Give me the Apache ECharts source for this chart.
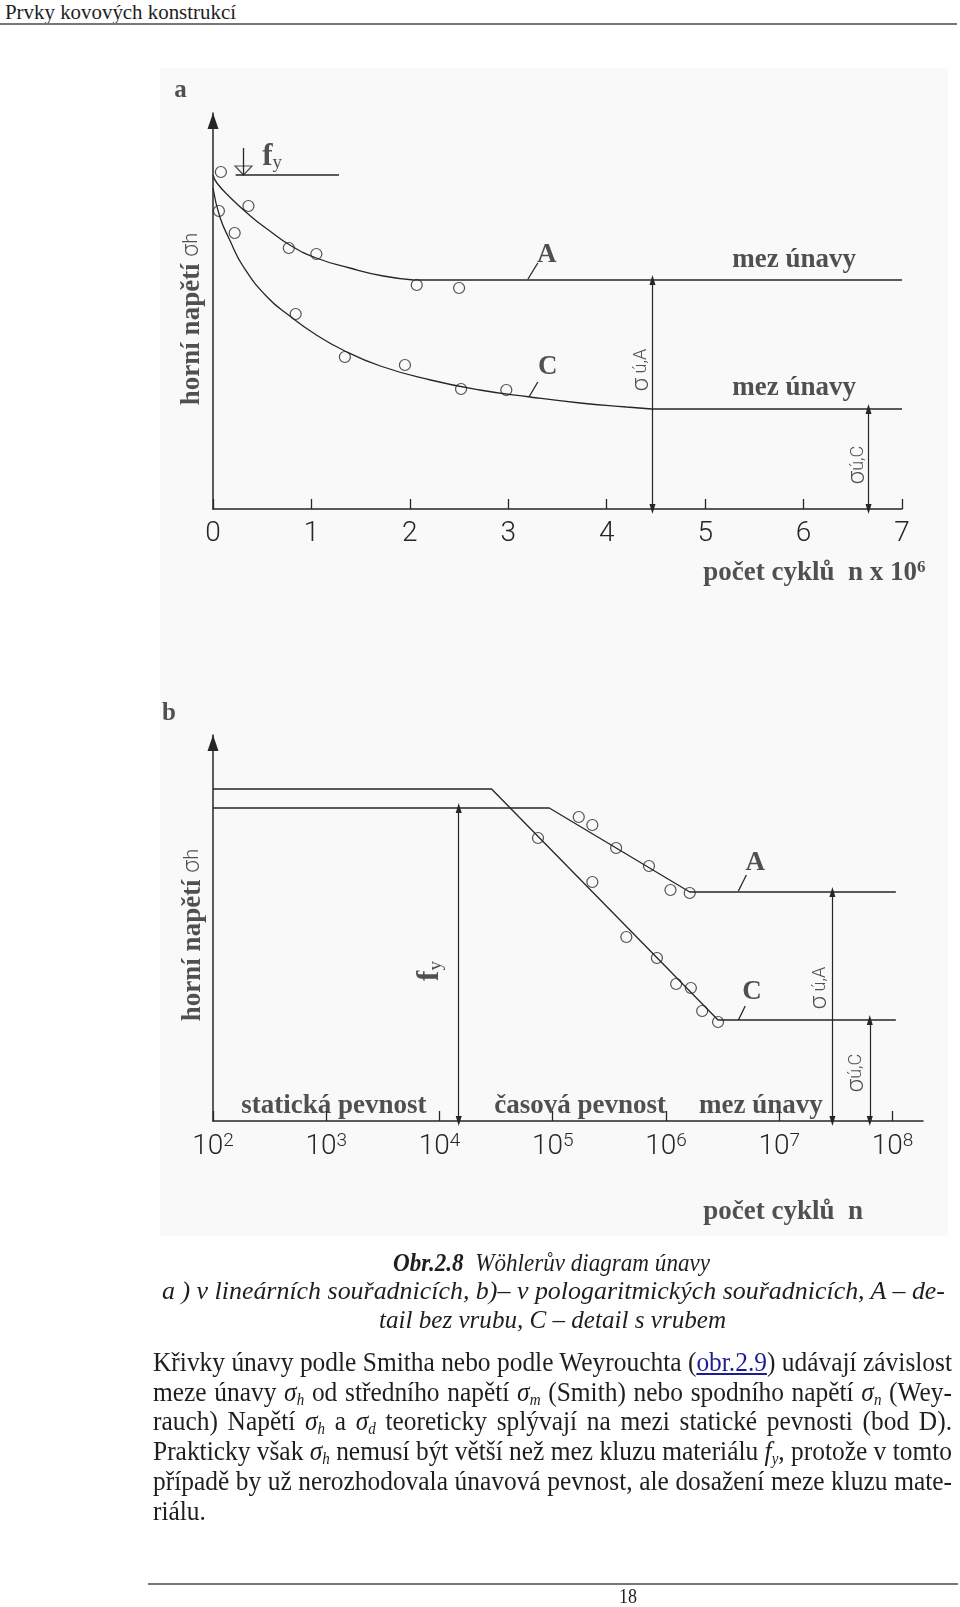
<!DOCTYPE html>
<html><head><meta charset="utf-8">
<script src="https://cdn.jsdelivr.net/npm/echarts@6/dist/echarts.min.js"></script>
<style>
html,body{margin:0;padding:0;background:#fff;}
body{width:960px;height:1607px;position:relative;overflow:hidden;font-family:'Liberation Serif','Times New Roman',serif;color:#1e1e1e;}
.ln{position:absolute;display:inline-block;white-space:nowrap;line-height:30px;transform-origin:0 50%;}
.cap{font-style:italic;font-size:26px;}
.par{font-size:27px;}
.par i{font-style:italic;}
.par sub{font-size:16px;font-style:italic;vertical-align:-4px;line-height:0;}
.lk{color:#1d1d8f;text-decoration:underline;}
#chart{position:absolute;left:0;top:0;width:960px;height:1607px;}
</style></head><body>
<div class="ln" data-mode="fit" data-l="5" data-r="236" data-c="12" style="font-size:21px;line-height:24px">Prvky kovových konstrukcí</div>
<div style="position:absolute;left:0;top:23px;width:957px;height:2px;background:#777"></div>
<div style="position:absolute;left:160px;top:68px;width:788px;height:1168px;background:#f9f9f9"></div>
<div id="chart"></div>

<div class="ln cap" data-mode="fit" data-l="393" data-r="710" data-c="1263"><b>Obr.2.8</b>&nbsp; Wöhlerův diagram únavy</div>
<div class="ln cap" data-mode="fit" data-l="162" data-r="945" data-c="1291">a ) v lineárních souřadnicích, b)– v pologaritmických souřadnicích, A – de-</div>
<div class="ln cap" data-mode="fit" data-l="379" data-r="726" data-c="1320">tail bez vrubu, C – detail s vrubem</div>

<div class="ln par" data-mode="justify" data-l="153" data-r="952" data-c="1362">Křivky únavy podle Smitha nebo podle Weyrouchta (<span class="lk">obr.2.9</span>) udávají závislost</div>
<div class="ln par" data-mode="justify" data-l="153" data-r="952" data-c="1391.7">meze únavy <i>σ</i><sub>h</sub> od středního napětí <i>σ</i><sub>m</sub> (Smith) nebo spodního napětí <i>σ</i><sub>n</sub> (Wey-</div>
<div class="ln par" data-mode="justify" data-l="153" data-r="952" data-c="1421.4">rauch) Napětí <i>σ</i><sub>h</sub> a <i>σ</i><sub>d</sub> teoreticky splývají na mezi statické pevnosti (bod D).</div>
<div class="ln par" data-mode="justify" data-l="153" data-r="952" data-c="1451.1">Prakticky však <i>σ</i><sub>h</sub> nemusí být větší než mez kluzu materiálu <i>f</i><sub>y</sub>, protože v tomto</div>
<div class="ln par" data-mode="justify" data-l="153" data-r="952" data-c="1480.8">případě by už nerozhodovala únavová pevnost, ale dosažení meze kluzu mate-</div>
<div class="ln par" data-mode="last" data-l="153" data-r="952" data-c="1510.5">riálu.</div>

<div style="position:absolute;left:148px;top:1583px;width:810px;height:2px;background:#777"></div>
<div class="ln" data-mode="fit" data-l="619" data-r="637" data-c="1596" style="font-size:20px">18</div>

<script>
// ================= DATA =================
// --- chart a: linear coordinates (n x 10^6, upper stress in arbitrary units) ---
const a_nMax = 7;
const a_sMax = 396;
const a_curveA_n = [0, 0.04, 0.17, 0.38, 0.55, 0.78, 1.05, 1.39, 1.73, 2.04];
const a_curveA_s = [334, 326, 312, 293, 280, 264, 251, 241, 233, 229];
const a_limitA = 229;
const a_curveC_n = [0, 0.07, 0.17, 0.31, 0.55, 0.78, 1.02, 1.32, 1.70, 2.21, 2.71, 3.22, 3.73, 4.20, 4.46];
const a_curveC_s = [321, 292, 269, 242, 212, 193, 176, 159, 143, 129, 119, 112, 106, 102, 100];
const a_limitC = 100;
const a_testsA_n = [0.08, 0.36, 0.77, 1.05, 2.07, 2.50];
const a_testsA_s = [337, 303, 261, 255, 224, 221];
const a_testsC_n = [0.06, 0.22, 0.84, 1.34, 1.95, 2.52, 2.98];
const a_testsC_s = [298, 276, 195, 152, 144, 120, 119];
const a_fy = 334;
const a_fyLine_n = [0.23, 1.28];
const a_fyMark_n = 0.31;
const a_fyMark_s = [361, 334];
const a_sigmaA_n = 4.465;
const a_sigmaC_n = 6.66;

// --- chart b: semi-log coordinates (log10 of cycles, upper stress) ---
const b_expMin = 2;
const b_expMax = 8.27;
const b_sMax = 386;
const b_lineC_exp = [2, 4.46, 6.46, 8.03];
const b_lineC_s = [332, 332, 101, 101];
const b_lineA_exp = [2, 4.97, 6.21, 8.03];
const b_lineA_s = [313, 313, 229, 229];
const b_testsA_exp = [5.23, 5.35, 5.56, 5.85, 6.04, 6.21];
const b_testsA_s = [304, 296, 273, 255, 231, 228];
const b_testsC_exp = [4.87, 5.35, 5.65, 5.92, 6.09, 6.22, 6.32, 6.46];
const b_testsC_s = [283, 239, 184, 163, 137, 133, 110, 99];
const b_fy_exp = 4.17;
const b_sigmaA_exp = 7.47;
const b_sigmaC_exp = 7.80;

// --- text annotations [x, y, text, rotation] in each chart's data units ---
const a_notes = [
  [-0.33, 418, '{pl|a}', 0],
  [-0.215, 190, '{bs|horní napětí }{sg|σ}{sgs|h}', 90],
  [6.11, -64, '{bs|počet cyklů  n x 10}{sup|6}', 0],
  [0.60, 352, '{fb|f}{fs|y}', 0],
  [3.39, 254, '{bs|A}', 0],
  [3.40, 142, '{bs|C}', 0],
  [5.905, 249, '{bs|mez únavy}', 0],
  [5.905, 121, '{bs|mez únavy}', 0],
  [4.357, 139, '{su|σ}{sus| ú,A}', 90],
  [6.555, 44, '{su|σ}{sus|ú,C}', 90]
];
const a_leaders = [[[3.20, 230], [3.30, 246]], [[3.21, 112], [3.30, 127]]];
const b_notes = [
  [1.611, 407, '{pl|b}', 0],
  [1.823, 186, '{bs|horní napětí }{sg|σ}{sgs|h}', 90],
  [7.035, -91, '{bs|počet cyklů  n}', 0],
  [3.917, 150, '{fb|f}{fs|y}', 90],
  [6.788, 258, '{bs|A}', 0],
  [6.759, 129, '{bs|C}', 0],
  [3.067, 15, '{bs|statická pevnost}', 0],
  [5.242, 15, '{bs|časová pevnost}', 0],
  [6.839, 15, '{bs|mez únavy}', 0],
  [7.362, 133, '{su|σ}{sus| ú,A}', 90],
  [7.686, 48, '{su|σ}{sus|ú,C}', 90]
];
const b_leaders = [[[6.64, 230], [6.71, 246]], [[6.64, 101], [6.70, 115]]];

// ================= CHART =================
const INK = '#262626';
const SERIF = "'Liberation Serif','Times New Roman',serif";
const THIN = "Roboto,'DejaVu Sans',sans-serif";
const RICH = {
  bs: {fontFamily: SERIF, fontWeight: 'bold', fontSize: 27, color: INK},
  pl: {fontFamily: SERIF, fontWeight: 'bold', fontSize: 25, color: INK},
  sg: {fontFamily: THIN, fontWeight: 300, fontSize: 23, color: INK},
  sgs: {fontFamily: THIN, fontWeight: 300, fontSize: 20, color: INK},
  sup: {fontFamily: SERIF, fontWeight: 'bold', fontSize: 17, color: INK, verticalAlign: 'top'},
  fb: {fontFamily: SERIF, fontWeight: 'bold', fontSize: 31, color: INK},
  fs: {fontFamily: SERIF, fontSize: 19, color: INK, verticalAlign: 'bottom'},
  su: {fontFamily: THIN, fontWeight: 300, fontSize: 24, color: INK},
  sus: {fontFamily: THIN, fontWeight: 300, fontSize: 18, color: INK}
};
const zip = (xs, ys) => xs.map((x, i) => [x, ys[i]]);
const LS = {color: INK, width: 1.3};

function line(g, data, smooth) {
  return {type: 'line', xAxisIndex: g, yAxisIndex: g, data: data, smooth: smooth || false,
    symbol: 'none', lineStyle: LS, silent: true, z: 3};
}
function dots(g, data) {
  return {type: 'scatter', xAxisIndex: g, yAxisIndex: g, data: data, symbol: 'circle', symbolSize: 11,
    itemStyle: {color: 'rgba(0,0,0,0)', borderColor: INK, borderWidth: 1.2}, silent: true, z: 4};
}
function dims(g, list) {
  return {type: 'line', xAxisIndex: g, yAxisIndex: g, data: [], silent: true,
    markLine: {silent: true, symbol: ['triangle', 'triangle'], symbolSize: [6, 10],
      label: {show: false}, lineStyle: {color: INK, width: 1.2, type: 'solid'},
      data: list.map(([x, top]) => [{coord: [x, top]}, {coord: [x, 0]}])}};
}
function notes(g, list) {
  return {type: 'scatter', xAxisIndex: g, yAxisIndex: g, clip: false, silent: true, z: 6,
    symbol: 'circle', symbolSize: 1, itemStyle: {color: 'rgba(0,0,0,0)'},
    label: {show: true, position: 'inside', color: INK, rich: RICH},
    data: list.map(([x, y, t, r]) => ({value: [x, y], label: {formatter: t, rotate: r}}))};
}

const series = [
  // chart a
  line(0, zip(a_curveA_n, a_curveA_s), 0.5),
  line(0, [[a_curveA_n[a_curveA_n.length - 1], a_limitA], [a_nMax, a_limitA]]),
  line(0, zip(a_curveC_n, a_curveC_s), 0.5),
  line(0, [[a_curveC_n[a_curveC_n.length - 1], a_limitC], [a_nMax, a_limitC]]),
  dots(0, zip(a_testsA_n, a_testsA_s)),
  dots(0, zip(a_testsC_n, a_testsC_s)),
  line(0, a_fyLine_n.map(n => [n, a_fy])),
  line(0, a_fyMark_s.map(s => [a_fyMark_n, s])),
  {type: 'scatter', xAxisIndex: 0, yAxisIndex: 0, silent: true, symbol: 'triangle', symbolRotate: 180,
    symbolSize: [17, 9], itemStyle: {color: 'rgba(0,0,0,0)', borderColor: INK, borderWidth: 1.2},
    data: [[a_fyMark_n, a_fy + 4.5]]},
  dims(0, [[a_sigmaA_n, a_limitA], [a_sigmaC_n, a_limitC]]),
  ...a_leaders.map(d => line(0, d)),
  notes(0, a_notes),
  // chart b
  line(1, zip(b_lineC_exp, b_lineC_s)),
  line(1, zip(b_lineA_exp, b_lineA_s)),
  dots(1, zip(b_testsA_exp, b_testsA_s)),
  dots(1, zip(b_testsC_exp, b_testsC_s)),
  dims(1, [[b_fy_exp, b_lineA_s[0]], [b_sigmaA_exp, b_lineA_s[3]], [b_sigmaC_exp, b_lineC_s[3]]]),
  ...b_leaders.map(d => line(1, d)),
  notes(1, b_notes)
];

const xCommon = {
  type: 'value', splitLine: {show: false},
  axisLine: {lineStyle: {color: INK, width: 1.5}},
  axisTick: {inside: true, length: 10, lineStyle: {color: INK, width: 1.3}}
};
const yCommon = {
  type: 'value', min: 0, splitLine: {show: false}, axisTick: {show: false}, axisLabel: {show: false},
  axisLine: {show: true, symbol: ['none', 'triangle'], symbolSize: [11, 16], symbolOffset: [0, -8],
    lineStyle: {color: INK, width: 1.5}}
};

const option = {
  animation: false,
  backgroundColor: 'transparent',
  grid: [
    {left: 213, top: 113, width: 689, height: 396},
    {left: 213, top: 735, width: 710, height: 386}
  ],
  xAxis: [
    Object.assign({}, xCommon, {gridIndex: 0, min: 0, max: a_nMax, interval: 1,
      axisLabel: {margin: 11, fontFamily: THIN, fontWeight: 300, fontSize: 28, color: INK}}),
    Object.assign({}, xCommon, {gridIndex: 1, min: b_expMin, max: b_expMax, interval: 1,
      axisLabel: {margin: 11, showMaxLabel: false, color: INK,
        formatter: v => Number.isInteger(v) ? '{m|10}{e|' + v + '}' : '',
        rich: {
          m: {fontFamily: THIN, fontWeight: 300, fontSize: 28, color: INK, lineHeight: 30},
          e: {fontFamily: THIN, fontWeight: 300, fontSize: 19, color: INK, verticalAlign: 'top', lineHeight: 18}
        }}})
  ],
  yAxis: [
    Object.assign({}, yCommon, {gridIndex: 0, max: a_sMax}),
    Object.assign({}, yCommon, {gridIndex: 1, max: b_sMax})
  ],
  series: series
};

const chart = echarts.init(document.getElementById('chart'), null, {renderer: 'canvas', width: 960, height: 1607});
chart.setOption(option);

// ================= TEXT LAYOUT =================
const lines = Array.from(document.querySelectorAll('.ln'));
lines.forEach(el => {
  el.style.left = el.dataset.l + 'px';
  const lh = parseFloat(getComputedStyle(el).lineHeight);
  el.style.top = (+el.dataset.c - lh / 2) + 'px';
});
const spaces = el => (el.textContent.match(/[ \u00a0]/g) || []).length;
const just = lines.filter(el => el.dataset.mode === 'justify');
let s0 = 1;
just.forEach(el => {
  const W = el.dataset.r - el.dataset.l;
  const w = el.getBoundingClientRect().width;
  s0 = Math.min(s0, W / w);
});
lines.forEach(el => {
  const W = el.dataset.r - el.dataset.l;
  const w = el.getBoundingClientRect().width;
  const m = el.dataset.mode;
  if (m === 'fit') {
    el.style.transform = 'scaleX(' + (W / w) + ')';
  } else if (m === 'justify') {
    const n = spaces(el);
    const extra = W / s0 - w;
    if (n > 0 && extra > 0) el.style.wordSpacing = (extra / n) + 'px';
    el.style.transform = 'scaleX(' + s0 + ')';
  } else {
    el.style.transform = 'scaleX(' + s0 + ')';
  }
});
</script>
</body></html>
